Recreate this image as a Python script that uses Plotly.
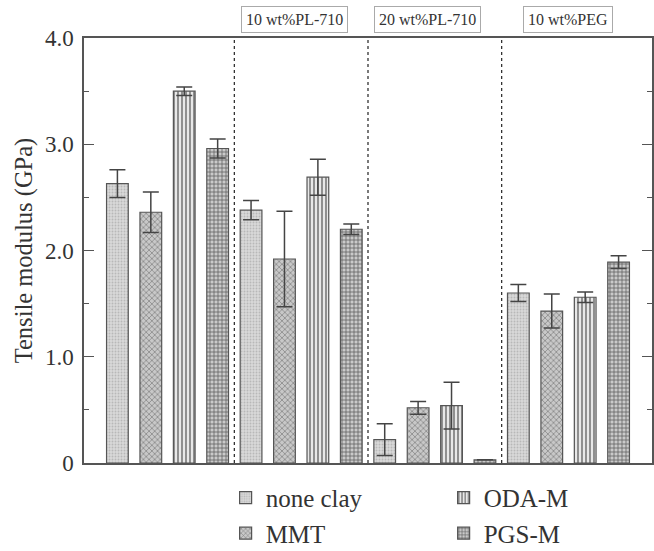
import plotly.graph_objects as go

groups = ["10 wt%PL-710", "20 wt%PL-710", "10 wt%PEG"]
series = ["none clay", "MMT", "ODA-M", "PGS-M"]
# values per series across the 4 blend groups (neat, 10%PL-710, 20%PL-710, 10%PEG)
none_clay = [2.63, 2.38, 0.22, 1.60]
none_clay_err = [0.13, 0.09, 0.15, 0.08]
mmt = [2.36, 1.92, 0.52, 1.43]
mmt_err = [0.19, 0.45, 0.06, 0.16]
oda_m = [3.50, 2.69, 0.54, 1.56]
oda_m_err = [0.04, 0.17, 0.22, 0.05]
pgs_m = [2.96, 2.20, 0.03, 1.89]
pgs_m_err = [0.09, 0.05, 0.0, 0.06]

y_ticks = [0, 1.0, 2.0, 3.0, 4.0]
y_ticktext = ["0", "1.0", "2.0", "3.0", "4.0"]

values = [none_clay, mmt, oda_m, pgs_m]
errors = [none_clay_err, mmt_err, oda_m_err, pgs_m_err]

styles = [
    dict(shape=".", bg="#d9d9d9", fg="#b8b8b8", size=3, sol=0.3),
    dict(shape="x", bg="#c8c8c8", fg="#7a7a7a", size=4, sol=0.3),
    dict(shape="|", bg="#e8e8e8", fg="#6a6a6a", size=4, sol=0.35),
    dict(shape="+", bg="#cacaca", fg="#606060", size=4, sol=0.35),
]
ranks = [1, 3, 2, 4]

n_series = len(series)
n_groups = len(values[0])

fig = go.Figure()
for s in range(n_series):
    xs = [g * n_series + s for g in range(n_groups)]
    st = styles[s]
    fig.add_trace(go.Bar(
        x=xs, y=values[s], name=series[s], width=0.65,
        legendrank=ranks[s],
        marker=dict(
            color=st["bg"],
            line=dict(color="#555555", width=1.2),
            pattern=dict(shape=st["shape"], bgcolor=st["bg"], fgcolor=st["fg"],
                         size=st["size"], solidity=st["sol"], fillmode="replace"),
        ),
        error_y=dict(type="data", array=errors[s], visible=True,
                     color="#444444", thickness=1.5, width=8),
    ))

# dashed separators between groups
for g in range(1, n_groups):
    xsep = g * n_series - 0.5
    fig.add_shape(type="line", x0=xsep, x1=xsep, y0=0, y1=4, xref="x", yref="y",
                  line=dict(color="#333333", width=1.3, dash="3px,3px"))

# group labels in boxes above the plot
shifts = [-7, -7, 0]
for g in range(1, n_groups):
    xc = g * n_series + (n_series - 1) / 2
    fig.add_annotation(x=xc, y=1, xref="x", yref="paper", yanchor="bottom", yshift=5,
                       xshift=shifts[g - 1],
                       text=groups[g - 1], showarrow=False,
                       font=dict(family="Liberation Serif", size=16, color="#333333"),
                       bordercolor="#aaaaaa", borderwidth=1, borderpad=4,
                       bgcolor="white")

fig.update_layout(
    width=654, height=551,
    margin=dict(l=84, r=2, t=38, b=88, autoexpand=False),
    plot_bgcolor="white", paper_bgcolor="white",
    barmode="overlay",
    showlegend=True,
    legend=dict(orientation="h", xref="container", yref="container",
                x=0.345, xanchor="left", y=0.138, yanchor="top",
                entrywidth=173, entrywidthmode="pixels",
                font=dict(family="Liberation Serif", size=25, color="#333333"),
                bgcolor="rgba(0,0,0,0)"),
    font=dict(family="Liberation Serif", color="#333333"),
    xaxis=dict(range=[-1, 16], showticklabels=False, ticks="", showgrid=False,
               zeroline=False, showline=True, linecolor="#555555", linewidth=1.5,
               mirror=True),
    yaxis=dict(range=[0, 4], tickvals=y_ticks, ticktext=y_ticktext,
               ticks="inside", ticklen=10, tickwidth=1.2, tickcolor="#555555",
               ticklabelstandoff=4,
               minor=dict(dtick=0.5, ticks="inside", ticklen=5, tickwidth=1.2,
                          tickcolor="#555555", showgrid=False),
               showgrid=False, zeroline=False, showline=True, linecolor="#555555",
               linewidth=1.5, mirror="ticks",
               tickfont=dict(family="Liberation Serif", size=23, color="#333333"),
               title=dict(text="Tensile modulus (GPa)", standoff=5,
                          font=dict(family="Liberation Serif", size=24.5, color="#333333"))),
)

fig.write_html("out.html", config={"displayModeBar": False},
               post_script="document.body.style.margin='0px';")
